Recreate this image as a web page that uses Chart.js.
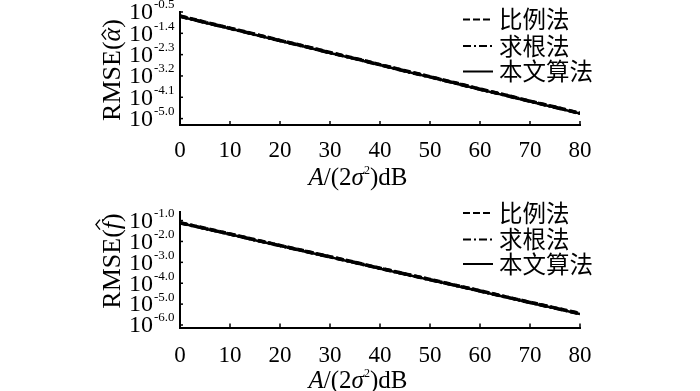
<!DOCTYPE html>
<html>
<head>
<meta charset="utf-8">
<script src="https://cdn.jsdelivr.net/npm/chart.js@4.4.0/dist/chart.umd.min.js"></script>
<style>
  html, body { margin: 0; padding: 0; background: #fff; }
  #wrap { position: relative; width: 700px; height: 391px; overflow: hidden; background: #fff; }
  canvas { position: absolute; left: 0; }
  #chartTop { top: 0; }
  #chartBottom { top: 195px; }
</style>
</head>
<body>
<div id="wrap">
  <canvas id="chartTop" width="700" height="195"></canvas>
  <canvas id="chartBottom" width="700" height="196"></canvas>
</div>
<script>
// x axis: A/(2σ²) in dB
const snr = [0, 5, 10, 15, 20, 25, 30, 35, 40, 45, 50, 55, 60, 65, 70, 75, 80];
const methodNames = ["比例法", "求根法", "本文算法"];

// RMSE of alpha estimate
const alphaRatio    = [0.213, 0.118, 0.0660, 0.0365, 0.0199, 0.0113, 0.00615, 0.00348, 0.00190, 0.00105, 0.000586, 0.000325, 0.000177, 0.000100, 0.0000548, 0.0000310, 0.0000169];
const alphaRoot     = [0.208, 0.115, 0.0645, 0.0355, 0.0196, 0.0110, 0.00602, 0.00339, 0.00186, 0.00102, 0.000575, 0.000316, 0.000174, 0.0000978, 0.0000537, 0.0000302, 0.0000166];
const alphaProposed = [0.204, 0.112, 0.0631, 0.0347, 0.0191, 0.0107, 0.00589, 0.00331, 0.00182, 0.00100, 0.000562, 0.000309, 0.000170, 0.0000955, 0.0000525, 0.0000295, 0.0000162];

// RMSE of frequency estimate
const freqRatio    = [0.0795, 0.0426, 0.0229, 0.0120, 0.00646, 0.00346, 0.00186, 0.000998, 0.000524, 0.000281, 0.000152, 0.0000811, 0.0000436, 0.0000229, 0.0000122, 0.00000660, 0.00000354];
const freqRoot     = [0.0777, 0.0416, 0.0224, 0.0118, 0.00631, 0.00339, 0.00182, 0.000977, 0.000512, 0.000275, 0.000148, 0.0000794, 0.0000427, 0.0000224, 0.0000120, 0.00000645, 0.00000347];
const freqProposed = [0.0759, 0.0407, 0.0219, 0.0115, 0.00617, 0.00331, 0.00178, 0.000955, 0.000501, 0.000269, 0.000145, 0.0000776, 0.0000417, 0.0000219, 0.0000117, 0.00000631, 0.00000339];

// y tick exponents (labels are 10^e)
const alphaTickExps = ["-0.5", "-1.4", "-2.3", "-3.2", "-4.1", "-5.0"];
const freqTickExps  = ["-1.0", "-2.0", "-3.0", "-4.0", "-5.0", "-6.0"];
const xTickValues = [0, 10, 20, 30, 40, 50, 60, 70, 80];

const serif = "'Liberation Serif', 'Times New Roman', serif";
const cjk = "'Noto Sans CJK SC', 'Noto Sans CJK JP', sans-serif";
const dashRatio = [7, 3];
const dashRoot = [8, 3, 2, 3];

// draw a row of text pieces with different fonts
function drawParts(ctx, parts, x, y, align) {
  let total = 0;
  parts.forEach(p => { ctx.font = p.font; p.w = ctx.measureText(p.t).width; total += p.w; });
  let cx = align === "center" ? x - total / 2 : x;
  const pos = [];
  parts.forEach(p => {
    ctx.font = p.font;
    ctx.fillText(p.t, cx, y + (p.dy || 0));
    pos.push(cx);
    cx += p.w;
  });
  return pos;
}

function makeDecor(cfg) {
  return {
    id: "decor",
    afterDraw(chart) {
      const ctx = chart.ctx;
      const xs = chart.scales.x, ys = chart.scales.y;
      const area = chart.chartArea;
      ctx.save();
      ctx.fillStyle = "#000";
      ctx.strokeStyle = "#000";

      // inward tick marks
      ctx.lineWidth = 1.5;
      xTickValues.forEach(v => {
        const px = xs.getPixelForValue(v);
        ctx.beginPath(); ctx.moveTo(px, area.bottom); ctx.lineTo(px, area.bottom - 4); ctx.stroke();
      });
      cfg.tickExps.forEach(e => {
        const py = ys.getPixelForValue(Math.pow(10, parseFloat(e)));
        ctx.beginPath(); ctx.moveTo(area.left, py); ctx.lineTo(area.left + 3, py); ctx.stroke();
      });

      // y tick labels 10^e
      ctx.textBaseline = "middle";
      cfg.tickExps.forEach(e => {
        const py = ys.getPixelForValue(Math.pow(10, parseFloat(e)));
        ctx.textAlign = "right";
        ctx.font = "24px " + serif;
        ctx.fillText("10", 153, py + 1);
        ctx.textAlign = "left";
        ctx.font = "13px " + serif;
        ctx.fillText(e, 154, py - 7);
      });

      // y title, rotated
      ctx.save();
      ctx.translate(cfg.titleX, cfg.titleY);
      ctx.rotate(-Math.PI / 2);
      ctx.textAlign = "left";
      ctx.textBaseline = "alphabetic";
      const parts = [
        { t: "RMSE(", font: "26px " + serif },
        { t: cfg.symbol, font: "italic 26px " + serif },
        { t: ")", font: "26px " + serif }
      ];
      const pos = drawParts(ctx, parts, 0, 0, "center");
      const hx = pos[1] + parts[1].w / 2 + cfg.hatDx;
      ctx.lineWidth = 1.4;
      ctx.beginPath();
      ctx.moveTo(hx - 5, cfg.hatY + 4);
      ctx.lineTo(hx, cfg.hatY);
      ctx.lineTo(hx + 5, cfg.hatY + 4);
      ctx.stroke();
      ctx.restore();

      // x title A/(2σ²)dB
      ctx.textAlign = "left";
      ctx.textBaseline = "alphabetic";
      drawParts(ctx, [
        { t: "A", font: "italic 25px " + serif },
        { t: "/(2", font: "25px " + serif },
        { t: "σ", font: "italic 25px " + serif },
        { t: "2", font: "12px " + serif, dy: -11 },
        { t: ")dB", font: "25px " + serif }
      ], 358, cfg.xTitleY, "center");

      // legend
      const dsets = chart.data.datasets;
      ctx.textBaseline = "middle";
      dsets.forEach((ds, i) => {
        const ly = cfg.legendY[i];
        ctx.lineWidth = 2;
        ctx.setLineDash(ds.borderDash || []);
        ctx.beginPath(); ctx.moveTo(463, ly); ctx.lineTo(493, ly); ctx.stroke();
        ctx.setLineDash([]);
        ctx.font = "23.5px " + cjk;
        ctx.fillText(ds.label, 499, ly);
      });
      ctx.restore();
    }
  };
}

function makeChart(canvasId, series, yMin, yMax, padTop, xHeight, tickPad, cfg) {
  return new Chart(document.getElementById(canvasId), {
    type: "line",
    data: {
      labels: snr,
      datasets: [
        { label: methodNames[0], data: series[0], borderColor: "#000", borderWidth: 3.5, borderDash: dashRatio, pointRadius: 0, fill: false },
        { label: methodNames[1], data: series[1], borderColor: "#000", borderWidth: 3.5, borderDash: dashRoot, pointRadius: 0, fill: false },
        { label: methodNames[2], data: series[2], borderColor: "#000", borderWidth: 2.5, pointRadius: 0, fill: false }
      ]
    },
    options: {
      responsive: false,
      animation: false,
      devicePixelRatio: 1,
      layout: { padding: { left: 180, right: 120, top: padTop, bottom: 0 } },
      plugins: { legend: { display: false }, tooltip: { enabled: false } },
      scales: {
        x: {
          type: "linear",
          min: 0,
          max: 80,
          afterFit: (scale) => { scale.height = xHeight; },
          grid: { drawOnChartArea: false, drawTicks: false },
          border: { display: true, color: "#000", width: 2 },
          ticks: { stepSize: 10, color: "#000", padding: tickPad, font: { family: serif, size: 23 } }
        },
        y: {
          type: "logarithmic",
          min: yMin,
          max: yMax,
          afterFit: (scale) => { scale.width = 0; },
          grid: { drawOnChartArea: false, drawTicks: false },
          border: { display: true, color: "#000", width: 2 },
          ticks: { display: false }
        }
      }
    },
    plugins: [makeDecor(cfg)]
  });
}

makeChart("chartTop", [alphaRatio, alphaRoot, alphaProposed], 5.37e-6, 0.316, 12, 70, 12, {
  tickExps: alphaTickExps, symbol: "α", titleX: 120, titleY: 70, hatY: -18, hatDx: 0,
  xTitleY: 185, legendY: [19.5, 46, 71.5]
});

makeChart("chartBottom", [freqRatio, freqRoot, freqProposed], 7.59e-7, 0.257, 17, 63.5, 15, {
  tickExps: freqTickExps, symbol: "f", titleX: 120, titleY: 66, hatY: -24, hatDx: 1,
  xTitleY: 193, legendY: [18, 44.5, 69]
});
</script>
</body>
</html>
